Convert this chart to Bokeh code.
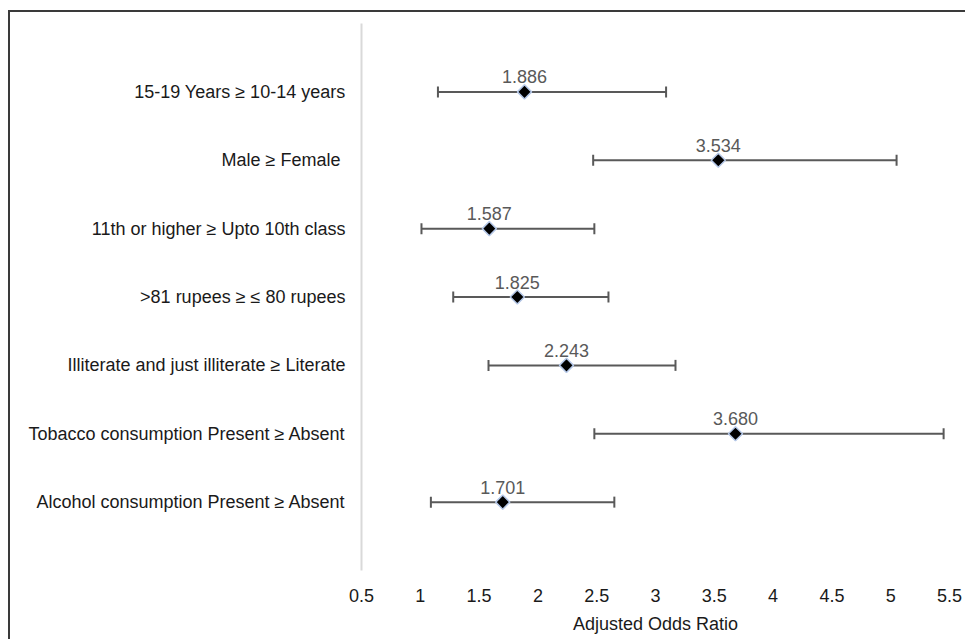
import math
from bokeh.plotting import figure
from bokeh.models import Range1d, FixedTicker, Whisker, ColumnDataSource, TeeHead
from bokeh.core.properties import value
from bokeh.embed import file_html
from bokeh.resources import INLINE

categories = [
    "15-19 Years ≥ 10-14 years",
    "Male ≥ Female ",
    "11th or higher ≥ Upto 10th class",
    ">81 rupees ≥ ≤ 80 rupees",
    "Illiterate and just illiterate ≥ Literate",
    "Tobacco consumption Present ≥ Absent",
    "Alcohol consumption Present ≥ Absent",
]
odds_ratio = [1.886, 3.534, 1.587, 1.825, 2.243, 3.680, 1.701]
ci_lower = [1.15, 2.47, 1.01, 1.28, 1.58, 2.48, 1.09]
ci_upper = [3.09, 5.05, 2.48, 2.60, 3.17, 5.45, 2.65]
or_labels = ["1.886", "3.534", "1.587", "1.825", "2.243", "3.680", "1.701"]
x_ticks = [0.5, 1, 1.5, 2, 2.5, 3, 3.5, 4, 4.5, 5, 5.5]
x_tick_labels = ["0.5", "1", "1.5", "2", "2.5", "3", "3.5", "4", "4.5", "5", "5.5"]

n = len(categories)
rows = [n - i for i in range(n)]

src = ColumnDataSource(dict(y=rows, orr=odds_ratio, lo=ci_lower, hi=ci_upper, lab=or_labels))

FONT = "Liberation Sans"
FS = "18px"

p = figure(width=957, height=629, output_backend="svg", toolbar_location=None,
           x_range=Range1d(0.5, 5.5), y_range=Range1d(0, n + 1),
           min_border_left=351, min_border_right=18, min_border_top=11, min_border_bottom=71,
           margin=(10, 0, 0, 8))
p.styles = {"border-top": "2px solid #3a3a3a", "border-left": "2px solid #3a3a3a", "box-sizing": "border-box"}
p.outline_line_color = None
p.xgrid.visible = False
p.ygrid.visible = False
p.background_fill_color = "white"
p.border_fill_color = "white"

# y axis: category labels
p.yaxis.ticker = FixedTicker(ticks=rows)
p.yaxis.major_label_overrides = {r: c for r, c in zip(rows, categories)}
p.yaxis.axis_line_color = "#d9d9d9"
p.yaxis.axis_line_width = 2
p.yaxis.major_tick_line_color = None
p.yaxis.minor_tick_line_color = None
p.yaxis.major_label_standoff = 10
p.yaxis.major_label_text_font = FONT
p.yaxis.major_label_text_font_size = FS
p.yaxis.major_label_text_color = "#1a1a1a"

# x axis
p.xaxis.ticker = FixedTicker(ticks=x_ticks)
p.xaxis.major_label_overrides = {t: l for t, l in zip(x_ticks, x_tick_labels)}
p.xaxis.axis_line_color = None
p.xaxis.major_tick_line_color = None
p.xaxis.minor_tick_line_color = None
p.xaxis.major_label_standoff = 12
p.xaxis.major_label_text_font = FONT
p.xaxis.major_label_text_font_size = FS
p.xaxis.major_label_text_color = "#1a1a1a"
p.xaxis.axis_label = "Adjusted Odds Ratio"
p.xaxis.axis_label_text_font = FONT
p.xaxis.axis_label_text_font_size = FS
p.xaxis.axis_label_text_font_style = "normal"
p.xaxis.axis_label_text_color = "#1a1a1a"
p.xaxis.axis_label_standoff = 9

w = Whisker(source=src, base="y", lower="lo", upper="hi", dimension="width",
            line_color="#595959", line_width=2,
            lower_head=TeeHead(size=11, line_color="#595959", line_width=2),
            upper_head=TeeHead(size=11, line_color="#595959", line_width=2))
p.add_layout(w)

p.scatter(x="orr", y="y", source=src, marker="square", angle=math.pi / 4, size=10,
          fill_color="black", line_color="#b4c7e7", line_width=1.5)

p.text(x="orr", y="y", text="lab", source=src, y_offset=-15, text_align="center",
       text_baseline="middle", text_font=value(FONT), text_font_size=FS,
       text_color="#595959")

open("out.html", "w").write(file_html(p, INLINE))
